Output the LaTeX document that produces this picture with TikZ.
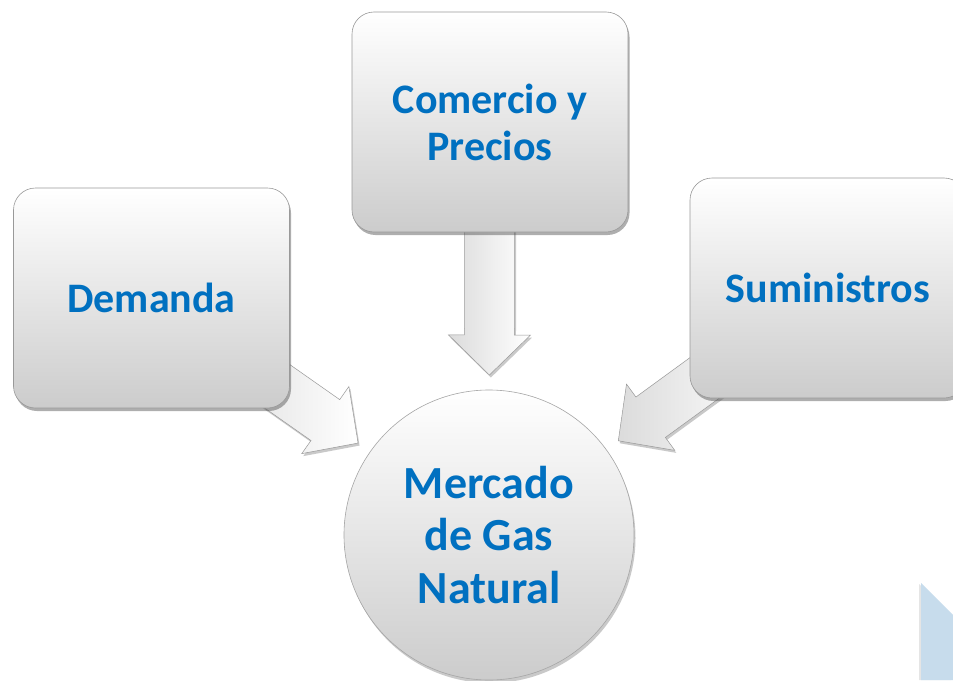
\documentclass[tikz,border=0pt]{standalone}
\usepackage{fontspec}
\setmainfont{Carlito}
\usetikzlibrary{shadows,calc}
\definecolor{txtblue}{HTML}{0070C0}
\definecolor{paleblue}{HTML}{C7DCEC}
\begin{document}
\begin{tikzpicture}[x=1pt,y=-1pt,
  box/.style={rounded corners=22pt, minimum width=276pt, minimum height=220pt,
    draw=black!40, line width=0.6pt,
    top color=white, middle color=white!96!black, bottom color=black!20,
    drop shadow={shadow xshift=1.5pt, shadow yshift=-3pt, opacity=0.45, fill=black!70},
    text=txtblue, font=\fontsize{42}{47}\selectfont\bfseries, align=center, inner sep=0pt},
  ball/.style={circle, minimum size=290pt, draw=black!35, line width=0.6pt,
    top color=white, bottom color=black!20,
    drop shadow={shadow xshift=1.5pt, shadow yshift=-3pt, opacity=0.35, fill=black!60},
    text=txtblue, font=\fontsize{46}{52.5}\selectfont\bfseries, align=center, inner sep=0pt},
  blockarrow/.style={draw=black!40, line width=0.5pt, line join=miter,
    left color=black!14, right color=white,
    drop shadow={shadow xshift=1.5pt, shadow yshift=-2.5pt, opacity=0.35, fill=black!60}}
]
\useasboundingbox (0,0) rectangle (953,680);
\clip (0,0) rectangle (953,680);
\fill[white] (0,0) rectangle (953,680);

% pale blue corner shape
\fill[black!20, opacity=0.5] (919,584) -- (951,616) -- (951,680) -- (919,680) -- cycle;
\fill[paleblue] (921,583) -- (953,615) -- (953,680) -- (921,680) -- cycle;

% node placement (invisible first, for arrow geometry)
\path (151.5,298) coordinate (demc) (490,122) coordinate (comc) (828,288) coordinate (sumc) (489,535) coordinate (merc);

% block arrows
\foreach \b in {demc,comc,sumc} {
  \coordinate (\b-tip) at ($(merc)!160pt!(\b)$);
  \coordinate (\b-hb)  at ($(merc)!200pt!(\b)$);
  \coordinate (\b-end) at ($(merc)!330pt!(\b)$);
  \path[blockarrow] (\b-tip)
    -- ($(\b-hb)!41pt!90:(\b)$)
    -- ($(\b-hb)!25pt!90:(\b)$)
    -- ($(\b-end)!25pt!90:(\b)$)
    -- ($(\b-end)!25pt!-90:(\b)$)
    -- ($(\b-hb)!25pt!-90:(\b)$)
    -- ($(\b-hb)!41pt!-90:(\b)$)
    -- cycle;
}

% boxes and circle
\node[box] (dem) at (demc) {Demanda};
\node[box] (com) at (comc) {Comercio y\\Precios};
\node[box] (sum) at (sumc) {Suministros};
\node[ball] (mer) at (merc) {Mercado\\de Gas\\Natural};
\end{tikzpicture}
\end{document}
